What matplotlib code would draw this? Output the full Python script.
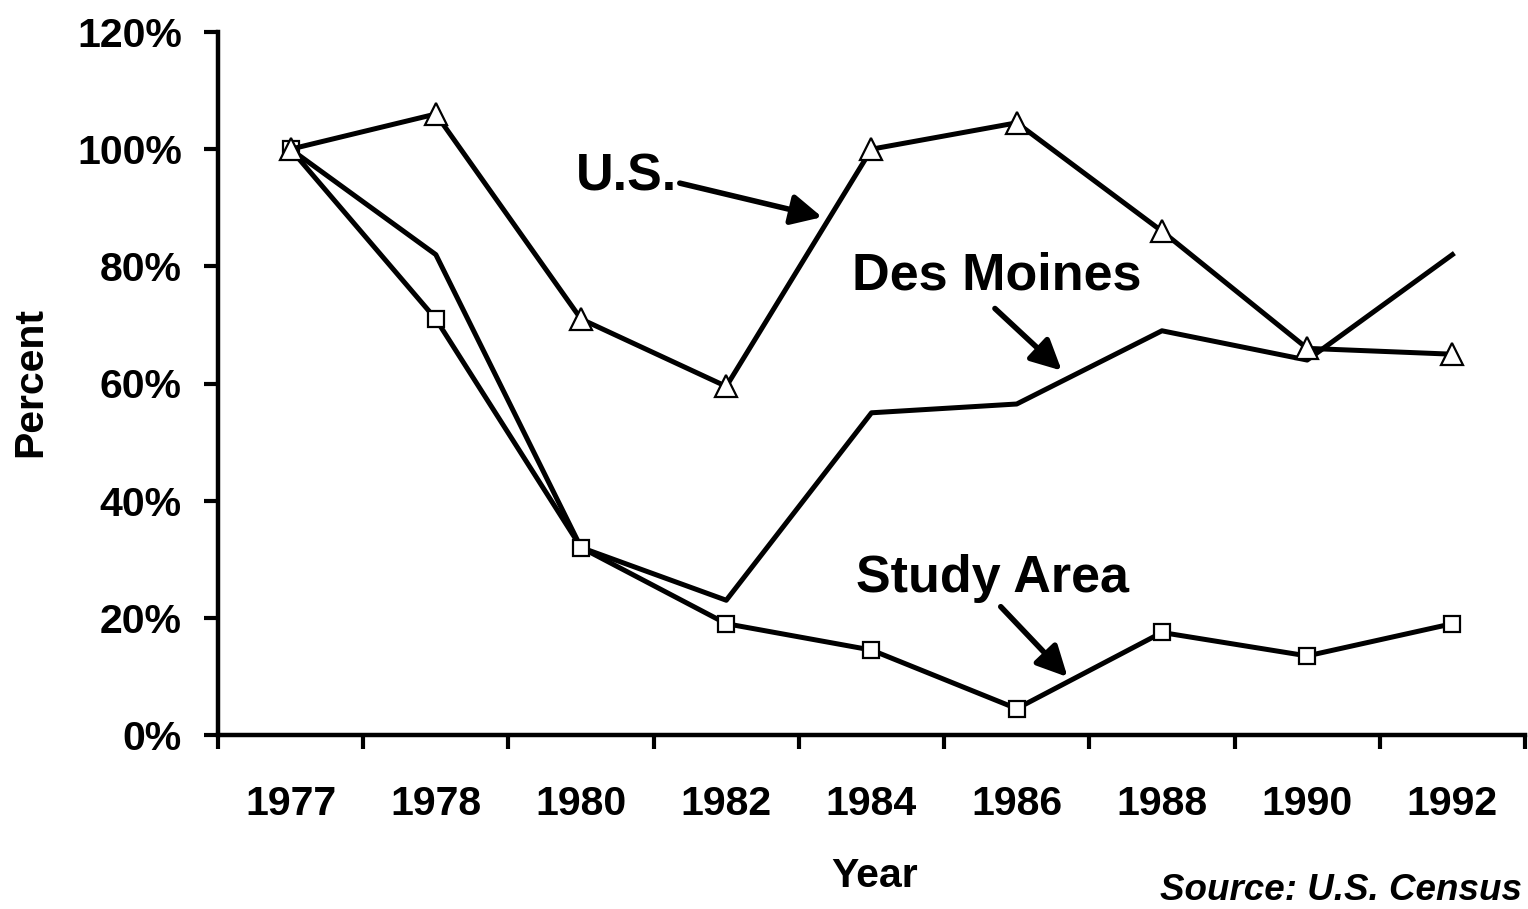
import matplotlib
matplotlib.use("Agg")
import matplotlib.pyplot as plt

years = ["1977", "1978", "1980", "1982", "1984", "1986", "1988", "1990", "1992"]
us = [100, 106, 71, 59.5, 100, 104.5, 86, 66, 65]
des_moines = [100, 82, 32, 23, 55, 56.5, 69, 64, 82]
study_area = [100, 71, 32, 19, 14.5, 4.5, 17.5, 13.5, 19]
y_ticks = [0, 20, 40, 60, 80, 100, 120]

plt.rcParams['font.family'] = ['Liberation Sans', 'DejaVu Sans']
plt.rcParams['font.weight'] = 'bold'

fig = plt.figure(figsize=(15.28, 9.09), dpi=100)
ax = fig.add_axes([218 / 1528, 1 - 735 / 909, (1525 - 218) / 1528, (735 - 32) / 909])

x = list(range(len(years)))
lw = 3.6
ax.plot(x, des_moines, color='black', lw=lw, zorder=2)
ax.plot(x, study_area, color='black', lw=lw, marker='s', markersize=12,
        markerfacecolor='white', markeredgecolor='black', markeredgewidth=1.6, zorder=3)
ax.plot(x, us, color='black', lw=lw, marker='^', markersize=16,
        markerfacecolor='white', markeredgecolor='black', markeredgewidth=1.6, zorder=4)

ax.set_xlim(-0.5, len(years) - 0.5)
ax.set_ylim(0, 120)

ax.spines['top'].set_visible(False)
ax.spines['right'].set_visible(False)
ax.spines['left'].set_linewidth(3.2)
ax.spines['bottom'].set_linewidth(3.2)

ax.set_yticks(y_ticks)
ax.set_yticklabels([f"{v}%" for v in y_ticks], fontsize=29.5, fontweight='bold')
ax.tick_params(axis='y', direction='out', length=10, width=3, pad=16)

ax.set_xticks([i - 0.5 for i in range(len(years) + 1)])
ax.set_xticklabels([])
ax.tick_params(axis='x', which='major', direction='out', length=10, width=3)
ax.set_xticks(x, minor=True)
ax.set_xticklabels(years, minor=True, fontsize=29.5, fontweight='bold')
ax.tick_params(axis='x', which='minor', length=0, pad=36)

fig.text(30 / 1528, 1 - 382 / 909, "Percent", rotation=90, fontsize=29.5,
         fontweight='bold', ha='center', va='center')
fig.text(875 / 1528, 1 - 876 / 909, "Year", fontsize=29.5,
         fontweight='bold', ha='center', va='center')
fig.text(1522 / 1528, 1 - 890 / 909, "Source: U.S. Census", fontsize=26.5,
         fontweight='bold', style='italic', ha='right', va='center')

arrow = dict(arrowstyle='-|>', lw=4, color='black', mutation_scale=46, shrinkA=0, shrinkB=0)
ax.annotate("", xy=(3.66, 88.4), xytext=(2.68, 94.2), arrowprops=arrow)
ax.annotate("", xy=(5.31, 62.2), xytext=(4.85, 72.8), arrowprops=arrow)
ax.annotate("", xy=(5.35, 9.9), xytext=(4.89, 21.9), arrowprops=arrow)
ax.text(2.31, 95.2, "U.S.", fontsize=37.5, fontweight='bold', ha='center', va='center')
ax.text(4.86, 78.4, "Des Moines", fontsize=37.5, fontweight='bold', ha='center', va='center')
ax.text(4.83, 26.7, "Study Area", fontsize=37.5, fontweight='bold', ha='center', va='center')

fig.savefig("out.png", dpi=100)
